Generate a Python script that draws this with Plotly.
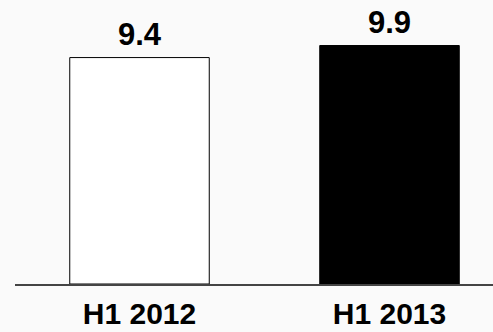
import plotly.graph_objects as go

# Half-year figures
categories = ["H1 2012", "H1 2013"]
values = [9.4, 9.9]
labels = ["9.4", "9.9"]
fill_colors = ["#ffffff", "#000000"]

FONT = "Liberation Sans, Arial, Helvetica, sans-serif"
x_pos = list(range(len(categories)))

fig = go.Figure(
    go.Bar(
        x=x_pos,
        y=values,
        width=0.558,
        marker=dict(color=fill_colors, line=dict(color="#000000", width=1)),
        hoverinfo="skip",
    )
)

for xi, v, t in zip(x_pos, values, labels):
    fig.add_annotation(
        x=xi, y=v, text=f"<b>{t}</b>", showarrow=False,
        yanchor="bottom", yshift=4,
        font=dict(family=FONT, size=31, color="#000000"),
    )

fig.update_layout(
    width=493, height=332,
    margin=dict(l=15, r=0, t=0, b=48, autoexpand=False),
    paper_bgcolor="#fafafa",
    plot_bgcolor="#fafafa",
    showlegend=False,
    xaxis=dict(
        range=[-0.498, 1.414],
        tickmode="array", tickvals=x_pos,
        ticktext=[f"<b>{c}</b>" for c in categories],
        tickfont=dict(family=FONT, size=30, color="#000000"),
        ticklabelstandoff=2,
        automargin=False,
        showgrid=False, zeroline=False,
        showline=True, linecolor="#444444", linewidth=1.5,
        ticks="", fixedrange=True,
    ),
    yaxis=dict(
        range=[0, 11.79], visible=False, showgrid=False, zeroline=False,
        fixedrange=True,
    ),
)

fig.write_html("out.html", config={"displayModeBar": False})
